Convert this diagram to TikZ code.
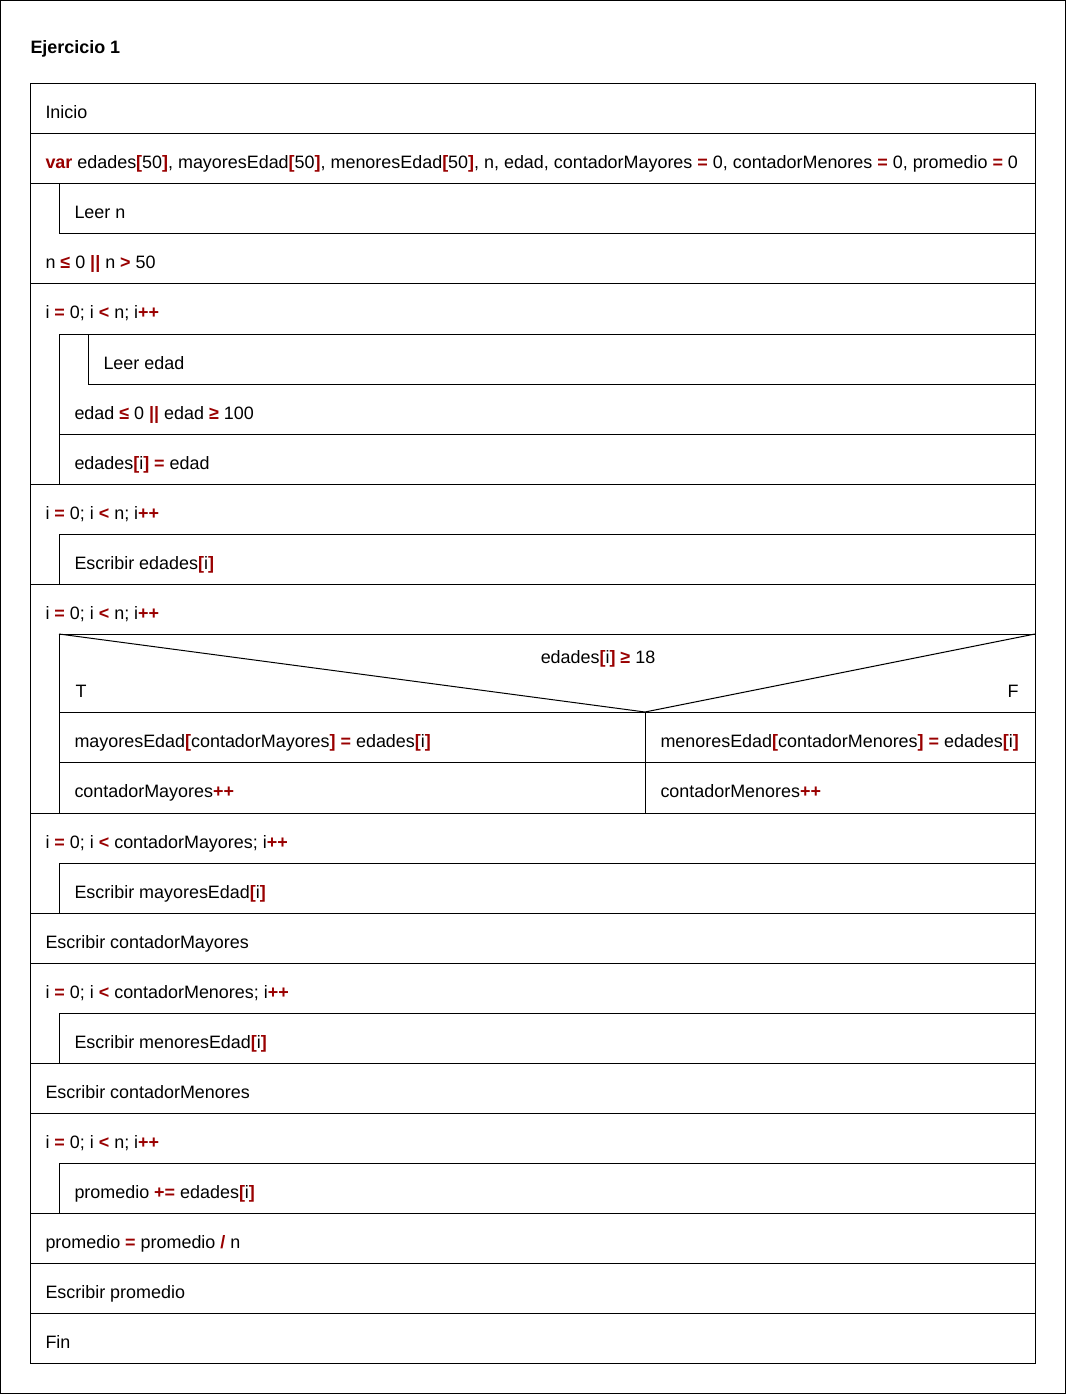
\documentclass[tikz,border=0pt]{standalone}
\usepackage{fontspec}
\setmainfont{Liberation Sans}
\definecolor{opred}{RGB}{153,0,0}
\newcommand{\op}[1]{\textcolor{opred}{\textbf{#1}}}

\begin{document}
\begin{tikzpicture}[x=0.75pt, y=-0.75pt, line width=0.75pt,
    txt/.style={anchor=base west, inner sep=0pt, font=\fontsize{13.45}{16}\selectfont}]
    \useasboundingbox (0,0) rectangle (1066,1394);
    % frame
    \draw (0.5,0.5) rectangle (1065.5,1393.5);
    \node [txt, font=\fontsize{13.45}{16}\selectfont\bfseries] (titulo) at (30,54) {Ejercicio 1};
    % main box
    \draw (30,84) rectangle (1035,1363);
    \draw (30,134) -- (1035,134);
    \draw (30,184) -- (1035,184);
    % leer n (repetir)
    \draw (59,184) -- (59,234) -- (1035,234);
    \draw (30,284) -- (1035,284);
    % primer para
    \draw (59,334) -- (1035,334);
    \draw (59,334) -- (59,484);
    \draw (88,334) -- (88,384) -- (1035,384);
    \draw (59,434) -- (1035,434);
    \draw (30,484) -- (1035,484);
    % escribir edades
    \draw (59,534) -- (1035,534);
    \draw (59,534) -- (59,584);
    \draw (30,584) -- (1035,584);
    % si
    \draw (59,634) -- (1035,634);
    \draw (59,634) -- (59,813);
    \draw (59,634) -- (645,712) -- (1035,634);
    \draw (59,712) -- (1035,712);
    \draw (645,712) -- (645,813);
    \draw (59,762) -- (1035,762);
    \draw (30,813) -- (1035,813);
    % mayores
    \draw (59,863) -- (1035,863);
    \draw (59,863) -- (59,913);
    \draw (30,913) -- (1035,913);
    \draw (30,963) -- (1035,963);
    % menores
    \draw (59,1013) -- (1035,1013);
    \draw (59,1013) -- (59,1063);
    \draw (30,1063) -- (1035,1063);
    \draw (30,1113) -- (1035,1113);
    % promedio
    \draw (59,1163) -- (1035,1163);
    \draw (59,1163) -- (59,1213);
    \draw (30,1213) -- (1035,1213);
    \draw (30,1263) -- (1035,1263);
    \draw (30,1313) -- (1035,1313);

    % textos
    \node [txt] (inicio) at (45,119) {Inicio};
    \node [txt] (declara) at (45,169) {\op{var} edades\op{[}50\op{]}, mayoresEdad\op{[}50\op{]}, menoresEdad\op{[}50\op{]}, n, edad, contadorMayores \op{=} 0, contadorMenores \op{=} 0, promedio \op{=} 0};
    \node [txt] (leerN) at (74,219) {Leer n};
    \node [txt] (condN) at (45,269) {n \op{≤} 0 \op{||} n \op{>} 50};
    \node [txt] (para1) at (45,319) {i \op{=} 0; i \op{<} n; i\op{++}};
    \node [txt] (leerEdad) at (103,369) {Leer edad};
    \node [txt] (condEdad) at (74,419) {edad \op{≤} 0 \op{||} edad \op{≥} 100};
    \node [txt] (asigna) at (74,469) {edades\op{[}i\op{]} \op{=} edad};
    \node [txt] (para2) at (45,519) {i \op{=} 0; i \op{<} n; i\op{++}};
    \node [txt] (escEdades) at (74,569) {Escribir edades\op{[}i\op{]}};
    \node [txt] (para3) at (45,619) {i \op{=} 0; i \op{<} n; i\op{++}};
    \node [txt, anchor=base] (condSi) at (598,663) {edades\op{[}i\op{]} \op{≥} 18};
    \node [txt] (verdad) at (75,697) {T};
    \node [txt, anchor=base east] (falso) at (1019,697) {F};
    \node [txt] (asigMay) at (74,747) {mayoresEdad\op{[}contadorMayores\op{]} \op{=} edades\op{[}i\op{]}};
    \node [txt] (asigMen) at (660,747) {menoresEdad\op{[}contadorMenores\op{]} \op{=} edades\op{[}i\op{]}};
    \node [txt] (incMay) at (74,797) {contadorMayores\op{++}};
    \node [txt] (incMen) at (660,797) {contadorMenores\op{++}};
    \node [txt] (para4) at (45,848) {i \op{=} 0; i \op{<} contadorMayores; i\op{++}};
    \node [txt] (escMay) at (74,898) {Escribir mayoresEdad\op{[}i\op{]}};
    \node [txt] (escCMay) at (45,948) {Escribir contadorMayores};
    \node [txt] (para5) at (45,998) {i \op{=} 0; i \op{<} contadorMenores; i\op{++}};
    \node [txt] (escMen) at (74,1048) {Escribir menoresEdad\op{[}i\op{]}};
    \node [txt] (escCMen) at (45,1098) {Escribir contadorMenores};
    \node [txt] (para6) at (45,1148) {i \op{=} 0; i \op{<} n; i\op{++}};
    \node [txt] (suma) at (74,1198) {promedio \op{+=} edades\op{[}i\op{]}};
    \node [txt] (divide) at (45,1248) {promedio \op{=} promedio \op{/} n};
    \node [txt] (escProm) at (45,1298) {Escribir promedio};
    \node [txt] (fin) at (45,1348) {Fin};
\end{tikzpicture}
\end{document}
